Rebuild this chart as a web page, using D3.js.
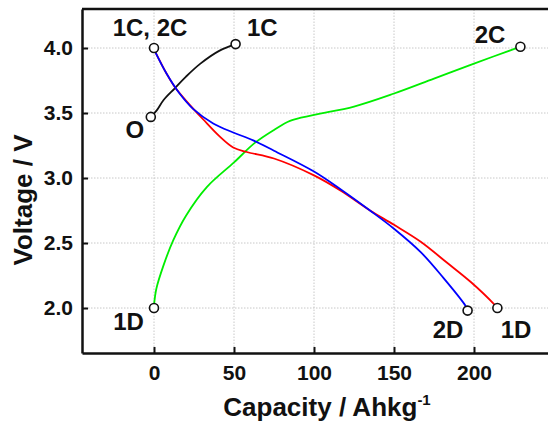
<!DOCTYPE html>
<html>
<head>
<meta charset="utf-8">
<script src="https://d3js.org/d3.v7.min.js"></script>
<style>
  body { margin: 0; background: #fff; }
  text { font-family: "Liberation Sans", Arial, sans-serif; }
  .grid line { stroke: #c8c8c8; stroke-width: 1; stroke-dasharray: 1.5,1.5; }
</style>
</head>
<body>
<script>
// discharge / charge curves [capacity, voltage]
const firstDischarge = [[0,3.99],[8,3.8],[13,3.7],[20.4,3.59],[30.8,3.45],[41,3.32],[49.5,3.235],[58,3.2],[75,3.15],[100,3.02],[117,2.9],[135,2.75],[150,2.64],[166.7,2.51],[183,2.35],[198,2.2],[212.5,2.03],[214.6,2.0]];
const secondDischarge = [[0,3.99],[8,3.8],[16,3.65],[24.6,3.53],[37,3.42],[49.5,3.35],[62,3.29],[75,3.21],[100,3.05],[117,2.91],[135,2.75],[150,2.61],[166.7,2.43],[181,2.23],[194,2.03],[196,1.99]];
const firstCharge = [[-2,3.47],[1.7,3.52],[6,3.6],[13,3.69],[20,3.78],[29,3.88],[41,3.98],[51,4.03]];
const secondCharge = [[0,2.02],[1.5,2.15],[6,2.33],[12,2.52],[20,2.71],[33,2.93],[50,3.12],[63,3.27],[75,3.37],[85,3.44],[100,3.485],[125,3.55],[150,3.65],[175,3.765],[200,3.88],[229,4.01]];

const markers = [[0,4.0],[51,4.03],[-2,3.47],[0,2.0],[196,1.98],[214.6,2.0],[229,4.01]];
const labels = [
  {text: "1C, 2C", x: -2.5, y: 4.092, anchor: "middle"},
  {text: "1C", x: 58.1, y: 4.092, anchor: "start"},
  {text: "O", x: -11.9, y: 3.308, anchor: "middle"},
  {text: "1D", x: -15.9, y: 1.831, anchor: "middle"},
  {text: "2D", x: 183.75, y: 1.769, anchor: "middle"},
  {text: "1D", x: 226.25, y: 1.769, anchor: "middle"},
  {text: "2C", x: 210, y: 4.038, anchor: "middle"}
];

const xTicks = [0, 50, 100, 150, 200];
const yTicks = [2.0, 2.5, 3.0, 3.5, 4.0];

const width = 548, height = 423;
const margin = {left: 82, top: 9, right: -6, bottom: 70};

const svg = d3.select("body").append("svg")
  .attr("width", width)
  .attr("height", height);

const x = d3.scaleLinear().domain([-45, 250]).range([margin.left, width - margin.right]);
const y = d3.scaleLinear().domain([1.654, 4.3]).range([height - margin.bottom, margin.top]);

// grid
const grid = svg.append("g").attr("class", "grid");
grid.selectAll(".gx").data(xTicks).enter().append("line")
  .attr("x1", d => x(d)).attr("x2", d => x(d))
  .attr("y1", y.range()[0]).attr("y2", y.range()[1]);
grid.selectAll(".gy").data(yTicks).enter().append("line")
  .attr("x1", x.range()[0]).attr("x2", x.range()[1])
  .attr("y1", d => y(d)).attr("y2", d => y(d));

// axes
const xAxis = svg.append("g")
  .attr("transform", `translate(0,${y.range()[0]})`)
  .call(d3.axisBottom(x).tickValues(xTicks).tickSizeInner(-6).tickSizeOuter(0).tickPadding(12));
const yAxis = svg.append("g")
  .attr("transform", `translate(${x.range()[0]},0)`)
  .call(d3.axisLeft(y).tickValues(yTicks).tickFormat(d3.format(".1f")).tickSizeInner(-6).tickSizeOuter(0).tickPadding(9));

[xAxis, yAxis].forEach(a => {
  a.select(".domain").attr("stroke", "#111").attr("stroke-width", 2.5);
  a.selectAll(".tick line").attr("stroke", "#111").attr("stroke-width", 2);
  a.selectAll(".tick text")
    .attr("fill", "#111")
    .style("font-size", "21px")
    .style("font-weight", "bold");
});

// top frame
svg.append("line")
  .attr("x1", x.range()[0]).attr("x2", width)
  .attr("y1", y.range()[1]).attr("y2", y.range()[1])
  .attr("stroke", "#111").attr("stroke-width", 2.5);

// curves
const line = d3.line()
  .x(d => x(d[0]))
  .y(d => y(d[1]))
  .curve(d3.curveCatmullRom.alpha(0.5));

const series = [
  {data: secondCharge, color: "#00ee00"},
  {data: firstCharge, color: "#111"},
  {data: firstDischarge, color: "#ff0000"},
  {data: secondDischarge, color: "#0000ff"}
];
svg.selectAll(".curve").data(series).enter().append("path")
  .attr("class", "curve")
  .attr("d", d => line(d.data))
  .attr("fill", "none")
  .attr("stroke", d => d.color)
  .attr("stroke-width", 1.8);

// open circle markers
svg.selectAll(".marker").data(markers).enter().append("circle")
  .attr("cx", d => x(d[0]))
  .attr("cy", d => y(d[1]))
  .attr("r", 4.5)
  .attr("fill", "#fff")
  .attr("stroke", "#111")
  .attr("stroke-width", 1.6);

// annotations
svg.selectAll(".lbl").data(labels).enter().append("text")
  .attr("x", d => x(d.x))
  .attr("y", d => y(d.y))
  .attr("text-anchor", d => d.anchor)
  .style("font-size", "24px")
  .style("font-weight", "bold")
  .attr("fill", "#111")
  .text(d => d.text);

// axis titles
const xt = svg.append("text")
  .attr("x", 327)
  .attr("y", 416)
  .attr("text-anchor", "middle")
  .style("font-size", "26px")
  .style("font-weight", "bold")
  .attr("fill", "#111");
xt.append("tspan").text("Capacity / Ahkg");
xt.append("tspan").attr("dy", -11).style("font-size", "15px").text("-1");

svg.append("text")
  .attr("transform", "translate(32,200) rotate(-90)")
  .attr("text-anchor", "middle")
  .style("font-size", "26px")
  .style("font-weight", "bold")
  .attr("fill", "#111")
  .text("Voltage / V");
</script>
</body>
</html>
